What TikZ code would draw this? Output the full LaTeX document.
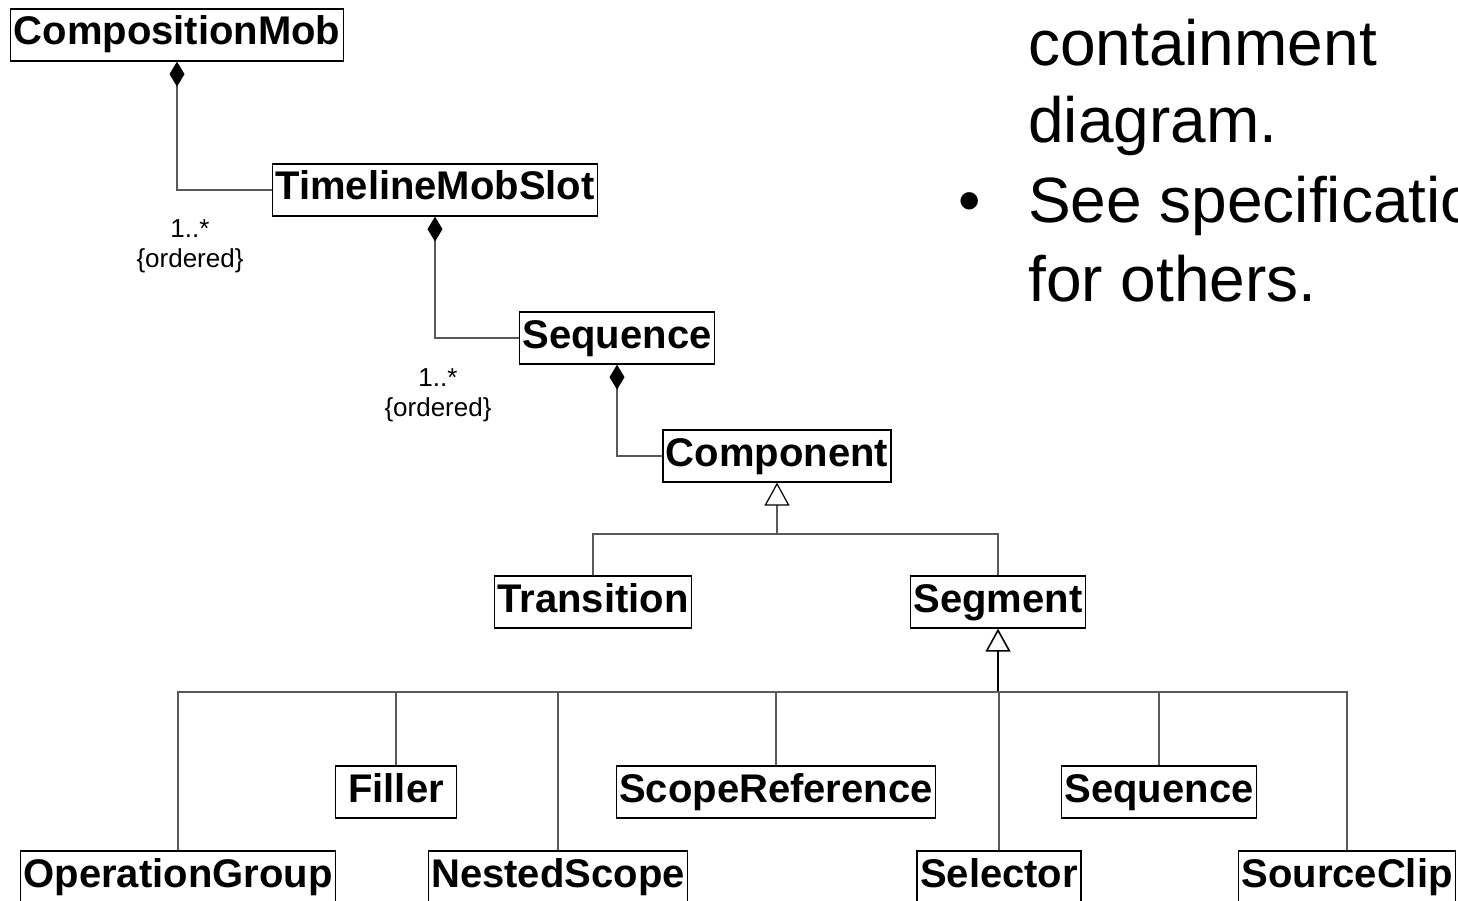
\documentclass[tikz,border=0pt]{standalone}
\usepackage{fontspec}
\setmainfont{Liberation Sans}
\usetikzlibrary{arrows.meta}
\begin{document}
\begin{tikzpicture}[x=1pt,y=-1pt,
        cls/.style={draw,line width=1.3pt,font=\fontsize{40}{48}\selectfont\bfseries,inner xsep=3pt,inner ysep=7pt,text height=29pt,text depth=9pt},
        link/.style={line width=1.2pt,black!65},
        comp/.style={link,{Diamond[length=25pt,width=15pt,color=black]}-},
        gen/.style={link,-{Triangle[open,length=23pt,width=25pt,color=black,fill=white]}},
        mult/.style={font=\fontsize{26}{30}\selectfont,align=center,inner sep=0pt},
        note/.style={font=\fontsize{64}{76}\selectfont,anchor=base west,inner sep=0pt}]
        \useasboundingbox (0,0) rectangle (1458,901);
        \clip (0,0) rectangle (1458,901);
        \node[cls] (CompositionMob) at (177,35) {CompositionMob};
        \node[cls] (TimelineMobSlot) at (435,190) {TimelineMobSlot};
        \node[cls] (Sequence) at (617,338) {Sequence};
        \node[cls] (Component) at (777,456) {Component};
        \node[cls] (Transition) at (593,602) {Transition};
        \node[cls] (Segment) at (998,602) {Segment};
        \node[cls,minimum width=121pt] (Filler) at (396,792) {Filler};
        \node[cls] (ScopeReference) at (776,792) {ScopeReference};
        \node[cls] (Sequence2) at (1159,792) {Sequence};
        \node[cls] (OperationGroup) at (178,877) {OperationGroup};
        \node[cls] (NestedScope) at (558,877) {NestedScope};
        \node[cls] (Selector) at (999,877) {Selector};
        \node[cls] (SourceClip) at (1347,877) {SourceClip};
        \node[mult] (ordered1) at (190,246) {1..*\\\{ordered\}};
        \node[mult] (ordered2) at (438,395) {1..*\\\{ordered\}};
        \coordinate (fork) at (777,534);
        \coordinate (bus) at (998,692);
        \draw[comp] (CompositionMob.south) |- (TimelineMobSlot.west);
        \draw[comp] (TimelineMobSlot.south) |- (Sequence.west);
        \draw[comp] (Sequence.south) |- (Component.west);
        \draw[gen] (fork) -- (Component.south);
        \draw[link] (Transition.north) |- (fork) -| (Segment.north);
        \draw[gen,black,line width=1.6pt] (bus) -- (Segment.south);
        \draw[link] (OperationGroup.north) |- (bus) -| (SourceClip.north);
        \foreach \n in {Filler,NestedScope,ScopeReference,Selector,Sequence2}
            \draw[link] (\n.north) -- (\n.north |- bus);
        \node[note] (line1) at (1028,66) {containment};
        \node[note] (line2) at (1028,143) {diagram.};
        \node[note] (bullet) at (958,223) {•};
        \node[note] (line3) at (1028,223) {See specifications};
        \node[note] (line4) at (1028,301) {for others.};
    \end{tikzpicture}
\end{document}
